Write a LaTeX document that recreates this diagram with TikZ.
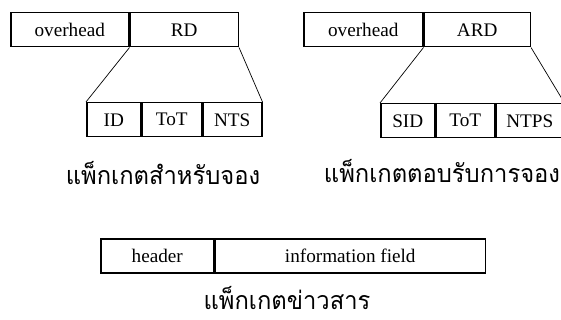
\documentclass[tikz,border=0pt]{standalone}
\usepackage{fontspec}
\setmainfont{Liberation Serif}
\newfontfamily\thaifont[Script=Thai]{Loma}
\usepackage{tikz}
\usetikzlibrary{positioning}
\newcommand{\thaicap}[1]{\scalebox{0.95}[1]{#1}}

\begin{document}
\begin{tikzpicture}[x=0.5pt,y=-0.5pt,
  field/.style={draw,line width=0.75pt,minimum height=17pt,inner sep=0pt,
    font=\fontsize{9.6}{11}\selectfont},
  zoomline/.style={line width=0.35pt},
  caption/.style={font=\thaifont\fontsize{12.5}{14}\selectfont,inner sep=0pt}]
\useasboundingbox (0,0) rectangle (561,320);
% packet for reservation
\node[field,minimum width=59pt,anchor=north west] (ovl) at (10,12) {overhead};
\node[field,minimum width=54pt,right=0pt of ovl] (rd) {RD};
\node[field,minimum width=27pt,anchor=north west] (id) at (86,102) {ID};
\node[field,minimum width=29.5pt,right=0pt of id] (totl) {ToT};
\node[field,minimum width=29.5pt,right=0pt of totl] (nts) {NTS};
\draw[zoomline] (rd.south west) -- (id.north west);
\draw[zoomline] (rd.south east) -- (nts.north east);
\node[caption] (capl) at (163,173) {\thaicap{แพ็กเกตสำหรับจอง}};
% reply packet
\node[field,minimum width=59.5pt,anchor=north west] (ovr) at (303,12) {overhead};
\node[field,minimum width=53pt,right=0pt of ovr] (ard) {ARD};
\node[field,minimum width=27pt,anchor=north west] (sid) at (380,103) {SID};
\node[field,minimum width=29pt,right=0pt of sid] (totr) {ToT};
\node[field,minimum width=34pt,right=0pt of totr] (ntps) {NTPS};
\draw[zoomline] (ard.south west) -- (sid.north west);
\draw[zoomline] (ard.south east) -- (ntps.north east);
\node[caption] (capr) at (442,171) {\thaicap{แพ็กเกตตอบรับการจอง}};
% message packet
\node[field,minimum width=56.5pt,anchor=north west] (hdr) at (100,238) {header};
\node[field,minimum width=135pt,right=0pt of hdr] (info) {information field};
\node[caption] (capm) at (287,298) {\thaicap{แพ็กเกตข่าวสาร}};
\end{tikzpicture}
\end{document}
